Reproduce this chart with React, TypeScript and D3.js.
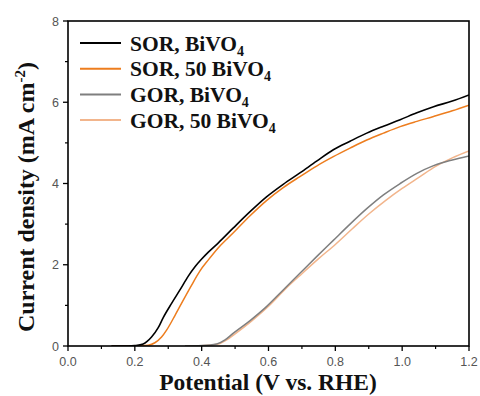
import React from "react";
import * as d3 from "d3";

const sorBiVO4: [number, number][] = [
  [0.13, 0], [0.18, 0], [0.2, 0.01], [0.225, 0.05], [0.25, 0.22], [0.27, 0.45], [0.285, 0.7], [0.31, 1.05],
  [0.335, 1.38], [0.36, 1.72], [0.38, 1.95], [0.4, 2.14], [0.42, 2.31], [0.45, 2.54], [0.494, 2.9], [0.544, 3.3],
  [0.594, 3.67], [0.644, 3.98], [0.694, 4.26], [0.744, 4.55], [0.794, 4.83], [0.844, 5.04],
  [0.894, 5.24], [0.944, 5.41], [0.994, 5.57], [1.044, 5.74], [1.094, 5.89], [1.15, 6.03], [1.2, 6.18],
];
const sor50BiVO4: [number, number][] = [
  [0.13, 0], [0.2, 0], [0.24, 0.02], [0.26, 0.08], [0.28, 0.22], [0.295, 0.39], [0.32, 0.75],
  [0.345, 1.13], [0.37, 1.5], [0.395, 1.85], [0.42, 2.12], [0.45, 2.42], [0.494, 2.78], [0.544, 3.2],
  [0.594, 3.58], [0.644, 3.9], [0.694, 4.17], [0.744, 4.43], [0.794, 4.66], [0.844, 4.87],
  [0.894, 5.07], [0.944, 5.24], [0.994, 5.4], [1.044, 5.53], [1.094, 5.65], [1.15, 5.79], [1.2, 5.93],
];
const gorBiVO4: [number, number][] = [
  [0.35, 0], [0.4, 0.01], [0.445, 0.05], [0.47, 0.15], [0.494, 0.31], [0.544, 0.62],
  [0.594, 0.97], [0.644, 1.38], [0.694, 1.79], [0.744, 2.2], [0.794, 2.6], [0.844, 3.0],
  [0.894, 3.38], [0.944, 3.72], [0.994, 4.0], [1.044, 4.25], [1.094, 4.44], [1.15, 4.58], [1.2, 4.68],
];
const gor50BiVO4: [number, number][] = [
  [0.35, 0], [0.41, 0.01], [0.45, 0.05], [0.475, 0.15], [0.5, 0.3], [0.55, 0.62],
  [0.6, 0.98], [0.65, 1.4], [0.7, 1.78], [0.75, 2.15], [0.8, 2.5], [0.85, 2.88],
  [0.9, 3.25], [0.95, 3.58], [1.0, 3.88], [1.05, 4.15], [1.1, 4.42], [1.15, 4.63], [1.2, 4.8],
];

const seriesNames = ["SOR, BiVO", "SOR, 50 BiVO", "GOR, BiVO", "GOR, 50 BiVO"];
const seriesColors = ["#000000", "#ED7D1E", "#7F7F7F", "#F2B58C"];
const seriesData = [sorBiVO4, sor50BiVO4, gorBiVO4, gor50BiVO4];
const xTicks = [0, 0.2, 0.4, 0.6, 0.8, 1.0, 1.2];
const xMinor = [0.1, 0.3, 0.5, 0.7, 0.9, 1.1];
const yTicks = [0, 2, 4, 6, 8];
const yMinor = [1, 3, 5, 7];

export default function App() {
  const W = 480, H = 396;
  const x0 = 68, x1 = 469, y0 = 346, y1 = 21;
  const x = d3.scaleLinear().domain([0, 1.2]).range([x0, x1]);
  const y = d3.scaleLinear().domain([0, 8]).range([y0, y1]);
  const line = d3.line<[number, number]>().x(d => x(d[0])).y(d => y(d[1])).curve(d3.curveMonotoneX);
  const drawOrder = [3, 2, 1, 0];
  const serif = "Liberation Serif, Times New Roman, serif";
  return (
    <svg width={W} height={H} style={{ position: "absolute", left: 0, top: 0 }}>
      <rect width={W} height={H} fill="#fff" />
      <defs>
        <clipPath id="plot"><rect x={x0} y={y1} width={x1 - x0} height={y0 - y1} /></clipPath>
      </defs>
      <g clipPath="url(#plot)">
        {drawOrder.map(i => (
          <path key={i} d={line(seriesData[i]) || ""} fill="none" stroke={seriesColors[i]}
            strokeWidth={i === 0 ? 1.6 : 1.5} />
        ))}
      </g>
      <rect x={x0} y={y1} width={x1 - x0} height={y0 - y1} fill="none" stroke="#000" strokeWidth={1.6} />
      {xTicks.map(t => (
        <g key={"xt" + t}>
          <line x1={x(t)} x2={x(t)} y1={y0} y2={y0 + 5} stroke="#000" strokeWidth={1.3} />
          <text x={x(t)} y={y0 + 20} textAnchor="middle" fontFamily="Liberation Sans, Arial" fontSize={12.5} fill="#555">{t.toFixed(1)}</text>
        </g>
      ))}
      {xMinor.map(t => (
        <line key={"xm" + t} x1={x(t)} x2={x(t)} y1={y0} y2={y0 + 3} stroke="#000" strokeWidth={1.2} />
      ))}
      {yTicks.map(t => (
        <g key={"yt" + t}>
          <line x1={x0 - 5} x2={x0} y1={y(t)} y2={y(t)} stroke="#000" strokeWidth={1.3} />
          <text x={x0 - 9} y={y(t) + 4.5} textAnchor="end" fontFamily="Liberation Sans, Arial" fontSize={12.5} fill="#555">{t}</text>
        </g>
      ))}
      {yMinor.map(t => (
        <line key={"ym" + t} x1={x0 - 3} x2={x0} y1={y(t)} y2={y(t)} stroke="#000" strokeWidth={1.2} />
      ))}
      <text x={268} y={390} textAnchor="middle" fontFamily={serif} fontWeight="bold" fontSize={23.5} fill="#111">Potential (V vs. RHE)</text>
      <text transform={`translate(34, 197) rotate(-90)`} textAnchor="middle" fontFamily={serif} fontWeight="bold" fontSize={24} fill="#111">
        Current density (mA cm<tspan dy={-9} fontSize={15}>-2</tspan><tspan dy={9}>)</tspan>
      </text>
      {seriesNames.map((n, i) => {
        const ly = 43 + i * 25.7;
        return (
          <g key={n}>
            <line x1={80} x2={121} y1={ly} y2={ly} stroke={seriesColors[i]} strokeWidth={2} />
            <text x={130} y={ly + 7.5} fontFamily={serif} fontWeight="bold" fontSize={21.5} fill="#111">
              {n}<tspan dy={5} fontSize={14}>4</tspan>
            </text>
          </g>
        );
      })}
    </svg>
  );
}
